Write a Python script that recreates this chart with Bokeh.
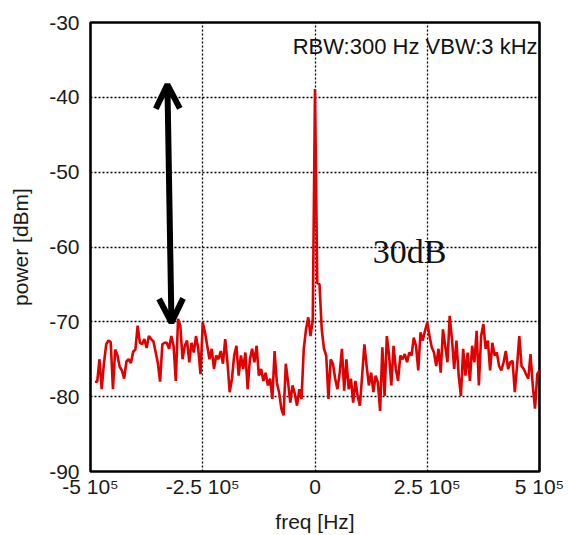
import numpy as np
from bokeh.plotting import figure
from bokeh.models import (ColumnDataSource, FixedTicker, Label, Arrow, OpenHead)
from bokeh.embed import file_html
from bokeh.resources import INLINE

# ---- data -------------------------------------------------------------
f_start = -490000
f_step = 5000
power = [
    -78, -78, -75, -79, -75.5, -73, -72.5, -72.7, -79, -73.7,
    -74.5, -76, -76.5, -77.6, -75.3, -75, -75.5, -74, -73.7, -70.5,
    -72.8, -73, -72.3, -73.5, -71.9, -72.3, -72.6, -74, -75.5, -78,
    -73, -72.8, -72.8, -73.6, -71.9, -73.2, -77.9, -69.6, -70.5, -75,
    -73.2, -72.5, -75.4, -72.8, -74.1, -71.9, -73.6, -77, -70.1, -71.4,
    -73.2, -75, -73.6, -76.3, -74.5, -75, -73.9, -75.6, -72.3, -75.4,
    -79.4, -77.6, -74.5, -73.2, -77.2, -74.5, -76.3, -74.1, -79, -75,
    -73.6, -75.4, -73.2, -77.2, -76.3, -77.9, -76.8, -78.5, -77.6, -80.3,
    -73.9, -78.1, -79.4, -81.6, -82.5, -75.6, -78.1, -80.8, -78.5, -79.6,
    -81.2, -79, -80.3, -73.6, -71, -69.4, -71.9, -69.8, -38.9, -64.8,
    -65, -71, -73.6, -74.5, -80.3, -75, -75.6, -77.6, -79, -76.8,
    -73.6, -79.2, -75, -79, -77.6, -80.8, -77.9, -79.9, -81.2, -77.2,
    -73, -75.9, -78.5, -76.8, -79.4, -77.2, -78.1, -81.9, -73.4, -79.9,
    -71.9, -74.5, -78.5, -73.2, -76.3, -77.9, -74.5, -75, -74.3, -75.4,
    -74.1, -74.5, -72.1, -73.2, -76.5, -71.4, -72.5, -71.2, -70.1, -71.9,
    -73.4, -74.1, -75.9, -73.6, -76.8, -71, -73.2, -75.4, -69.2, -72.3,
    -76.3, -72.5, -77.2, -79.9, -73.6, -77.2, -74.1, -77.9, -73.2, -75.4,
    -71.2, -78.5, -71.9, -70.3, -73.6, -72.5, -76.5, -72.8, -74.5, -74.1,
    -75.9, -76.5, -75.4, -73.9, -76.3, -75.4, -75.2, -79.4, -75.9, -71.9,
    -75.9, -76.3, -77, -77.6, -74.3, -78.5, -81.6, -77, -76.5,
]
freq = f_start + f_step * np.arange(len(power))

x_ticks = [-500000, -250000, 0, 250000, 500000]
x_tick_labels = ["-5 10\u2075", "-2.5 10\u2075", "0", "2.5 10\u2075", "5 10\u2075"]
y_ticks = [-90, -80, -70, -60, -50, -40, -30]
y_tick_labels = ["-90", "-80", "-70", "-60", "-50", "-40", "-30"]

note_text = "RBW:300 Hz VBW:3 kHz"
note_pos = (-49700, -33.2)
span_text = "30dB"
span_pos = (128500, -60.6)
arrow_top = (-328700, -38.3)
arrow_bottom = (-319700, -70.1)

# ---- figure -----------------------------------------------------------
FONT = "Liberation Sans"
p = figure(frame_width=449, frame_height=449,
           x_range=(-500000, 500000), y_range=(-90, -30),
           output_backend="svg", toolbar_location=None,
           min_border_left=90, min_border_right=30,
           min_border_top=22, min_border_bottom=56,
           background_fill_color="white", border_fill_color="white")

p.outline_line_color = "black"
p.outline_line_width = 2.6

for ax in (p.xaxis, p.yaxis):
    ax.axis_line_color = None
    ax.major_tick_line_color = None
    ax.minor_tick_line_color = None
    ax.major_tick_out = 0
    ax.major_tick_in = 0
    ax.major_label_text_font = FONT
    ax.major_label_text_font_size = "21px"
    ax.major_label_text_color = "#1a1a1a"
    ax.axis_label_text_font = FONT
    ax.axis_label_text_font_size = "21px"
    ax.axis_label_text_font_style = "normal"
    ax.axis_label_text_color = "#1a1a1a"

p.xaxis.ticker = FixedTicker(ticks=x_ticks)
p.xaxis.major_label_overrides = dict(zip(x_ticks, x_tick_labels))
p.yaxis.ticker = FixedTicker(ticks=y_ticks)
p.yaxis.major_label_overrides = dict(zip(y_ticks, y_tick_labels))
p.xaxis.major_label_standoff = 3
p.yaxis.major_label_standoff = 11
p.xaxis.axis_label = "freq [Hz]"
p.yaxis.axis_label = "power [dBm]"
p.xaxis.axis_label_standoff = 9
p.yaxis.axis_label_standoff = 14

p.grid.grid_line_color = "black"
p.grid.grid_line_dash = "2 2"
p.grid.grid_line_width = 1.3
p.xgrid.ticker = FixedTicker(ticks=[-250000, 0, 250000])
p.ygrid.ticker = FixedTicker(ticks=[-80, -70, -60, -50, -40])

src = ColumnDataSource(dict(freq=freq, power=power))
p.line("freq", "power", source=src, line_color="#e00000", line_width=2.6)

p.add_layout(Arrow(x_start=arrow_bottom[0], y_start=arrow_bottom[1],
                   x_end=arrow_top[0], y_end=arrow_top[1],
                   line_width=6, line_color="black",
                   start=OpenHead(size=24, line_width=6, line_color="black"),
                   end=OpenHead(size=24, line_width=6, line_color="black")))

p.add_layout(Label(x=note_pos[0], y=note_pos[1], text=note_text,
                   text_font=FONT, text_font_size="22px",
                   text_color="#111111", text_baseline="alphabetic"))
p.add_layout(Label(x=span_pos[0], y=span_pos[1], text=span_text,
                   text_font="Liberation Serif", text_font_size="34px",
                   text_color="#111111", text_baseline="alphabetic"))

open("out.html", "w").write(file_html(p, INLINE))
